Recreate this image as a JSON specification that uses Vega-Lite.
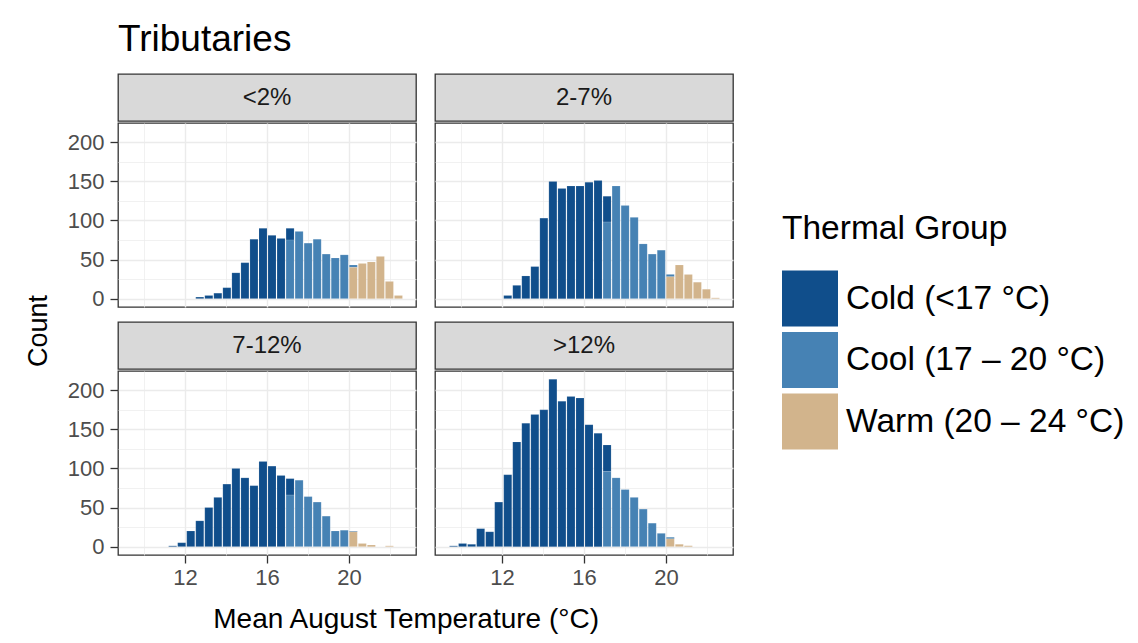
{
  "$schema": "https://vega.github.io/schema/vega-lite/v6.json",
  "background": "white",
  "padding": {"left": 24, "top": 21, "right": 5, "bottom": 5},
  "title": {"text": "Tributaries", "anchor": "start", "frame": "group", "fontSize": 37, "font": "Liberation Sans", "fontWeight": "normal", "color": "#000000", "offset": 14},
  "datasets": {
    "hist": [
      {"p":"<2%","b0":12.48,"b1":12.92,"g":"Cold","n":2},
      {"p":"<2%","b0":12.92,"b1":13.36,"g":"Cold","n":4},
      {"p":"<2%","b0":13.36,"b1":13.80,"g":"Cold","n":7},
      {"p":"<2%","b0":13.80,"b1":14.24,"g":"Cold","n":14},
      {"p":"<2%","b0":14.24,"b1":14.68,"g":"Cold","n":33},
      {"p":"<2%","b0":14.68,"b1":15.12,"g":"Cold","n":46},
      {"p":"<2%","b0":15.12,"b1":15.56,"g":"Cold","n":76},
      {"p":"<2%","b0":15.56,"b1":16.00,"g":"Cold","n":90},
      {"p":"<2%","b0":16.00,"b1":16.44,"g":"Cold","n":81},
      {"p":"<2%","b0":16.44,"b1":16.88,"g":"Cold","n":77},
      {"p":"<2%","b0":16.88,"b1":17.32,"g":"Cold","n":15},
      {"p":"<2%","b0":16.88,"b1":17.32,"g":"Cool","n":75},
      {"p":"<2%","b0":17.32,"b1":17.76,"g":"Cool","n":86},
      {"p":"<2%","b0":17.76,"b1":18.20,"g":"Cool","n":71},
      {"p":"<2%","b0":18.20,"b1":18.64,"g":"Cool","n":76},
      {"p":"<2%","b0":18.64,"b1":19.08,"g":"Cool","n":57},
      {"p":"<2%","b0":19.08,"b1":19.52,"g":"Cool","n":52},
      {"p":"<2%","b0":19.52,"b1":19.96,"g":"Cool","n":56},
      {"p":"<2%","b0":19.96,"b1":20.40,"g":"Cool","n":3},
      {"p":"<2%","b0":19.96,"b1":20.40,"g":"Warm","n":40},
      {"p":"<2%","b0":20.40,"b1":20.84,"g":"Warm","n":45},
      {"p":"<2%","b0":20.84,"b1":21.28,"g":"Warm","n":47},
      {"p":"<2%","b0":21.28,"b1":21.72,"g":"Warm","n":54},
      {"p":"<2%","b0":21.72,"b1":22.16,"g":"Warm","n":22},
      {"p":"<2%","b0":22.16,"b1":22.60,"g":"Warm","n":4},

      {"p":"2-7%","b0":12.04,"b1":12.48,"g":"Cold","n":4},
      {"p":"2-7%","b0":12.48,"b1":12.92,"g":"Cold","n":17},
      {"p":"2-7%","b0":12.92,"b1":13.36,"g":"Cold","n":29},
      {"p":"2-7%","b0":13.36,"b1":13.80,"g":"Cold","n":41},
      {"p":"2-7%","b0":13.80,"b1":14.24,"g":"Cold","n":103},
      {"p":"2-7%","b0":14.24,"b1":14.68,"g":"Cold","n":150},
      {"p":"2-7%","b0":14.68,"b1":15.12,"g":"Cold","n":141},
      {"p":"2-7%","b0":15.12,"b1":15.56,"g":"Cold","n":144},
      {"p":"2-7%","b0":15.56,"b1":16.00,"g":"Cold","n":144},
      {"p":"2-7%","b0":16.00,"b1":16.44,"g":"Cold","n":149},
      {"p":"2-7%","b0":16.44,"b1":16.88,"g":"Cold","n":151},
      {"p":"2-7%","b0":16.88,"b1":17.32,"g":"Cold","n":33},
      {"p":"2-7%","b0":16.88,"b1":17.32,"g":"Cool","n":98},
      {"p":"2-7%","b0":17.32,"b1":17.76,"g":"Cool","n":144},
      {"p":"2-7%","b0":17.76,"b1":18.20,"g":"Cool","n":119},
      {"p":"2-7%","b0":18.20,"b1":18.64,"g":"Cool","n":104},
      {"p":"2-7%","b0":18.64,"b1":19.08,"g":"Cool","n":70},
      {"p":"2-7%","b0":19.08,"b1":19.52,"g":"Cool","n":57},
      {"p":"2-7%","b0":19.52,"b1":19.96,"g":"Cool","n":62},
      {"p":"2-7%","b0":19.96,"b1":20.40,"g":"Cool","n":3},
      {"p":"2-7%","b0":19.96,"b1":20.40,"g":"Warm","n":28},
      {"p":"2-7%","b0":20.40,"b1":20.84,"g":"Warm","n":43},
      {"p":"2-7%","b0":20.84,"b1":21.28,"g":"Warm","n":31},
      {"p":"2-7%","b0":21.28,"b1":21.72,"g":"Warm","n":21},
      {"p":"2-7%","b0":21.72,"b1":22.16,"g":"Warm","n":12},
      {"p":"2-7%","b0":22.16,"b1":22.60,"g":"Warm","n":1},

      {"p":"7-12%","b0":11.16,"b1":11.60,"g":"Cold","n":1},
      {"p":"7-12%","b0":11.60,"b1":12.04,"g":"Cold","n":5},
      {"p":"7-12%","b0":12.04,"b1":12.48,"g":"Cold","n":20},
      {"p":"7-12%","b0":12.48,"b1":12.92,"g":"Cold","n":33},
      {"p":"7-12%","b0":12.92,"b1":13.36,"g":"Cold","n":50},
      {"p":"7-12%","b0":13.36,"b1":13.80,"g":"Cold","n":63},
      {"p":"7-12%","b0":13.80,"b1":14.24,"g":"Cold","n":80},
      {"p":"7-12%","b0":14.24,"b1":14.68,"g":"Cold","n":100},
      {"p":"7-12%","b0":14.68,"b1":15.12,"g":"Cold","n":88},
      {"p":"7-12%","b0":15.12,"b1":15.56,"g":"Cold","n":78},
      {"p":"7-12%","b0":15.56,"b1":16.00,"g":"Cold","n":109},
      {"p":"7-12%","b0":16.00,"b1":16.44,"g":"Cold","n":103},
      {"p":"7-12%","b0":16.44,"b1":16.88,"g":"Cold","n":91},
      {"p":"7-12%","b0":16.88,"b1":17.32,"g":"Cold","n":21},
      {"p":"7-12%","b0":16.88,"b1":17.32,"g":"Cool","n":66},
      {"p":"7-12%","b0":17.32,"b1":17.76,"g":"Cool","n":85},
      {"p":"7-12%","b0":17.76,"b1":18.20,"g":"Cool","n":64},
      {"p":"7-12%","b0":18.20,"b1":18.64,"g":"Cool","n":57},
      {"p":"7-12%","b0":18.64,"b1":19.08,"g":"Cool","n":39},
      {"p":"7-12%","b0":19.08,"b1":19.52,"g":"Cool","n":20},
      {"p":"7-12%","b0":19.52,"b1":19.96,"g":"Cool","n":21},
      {"p":"7-12%","b0":19.96,"b1":20.40,"g":"Cool","n":1},
      {"p":"7-12%","b0":19.96,"b1":20.40,"g":"Warm","n":19},
      {"p":"7-12%","b0":20.40,"b1":20.84,"g":"Warm","n":4},
      {"p":"7-12%","b0":20.84,"b1":21.28,"g":"Warm","n":2},
      {"p":"7-12%","b0":21.72,"b1":22.16,"g":"Warm","n":1},

      {"p":">12%","b0":9.40,"b1":9.84,"g":"Cold","n":1},
      {"p":">12%","b0":9.84,"b1":10.28,"g":"Cold","n":4},
      {"p":">12%","b0":10.28,"b1":10.72,"g":"Cold","n":3},
      {"p":">12%","b0":10.72,"b1":11.16,"g":"Cold","n":23},
      {"p":">12%","b0":11.16,"b1":11.60,"g":"Cold","n":19},
      {"p":">12%","b0":11.60,"b1":12.04,"g":"Cold","n":57},
      {"p":">12%","b0":12.04,"b1":12.48,"g":"Cold","n":92},
      {"p":">12%","b0":12.48,"b1":12.92,"g":"Cold","n":134},
      {"p":">12%","b0":12.92,"b1":13.36,"g":"Cold","n":158},
      {"p":">12%","b0":13.36,"b1":13.80,"g":"Cold","n":169},
      {"p":">12%","b0":13.80,"b1":14.24,"g":"Cold","n":175},
      {"p":">12%","b0":14.24,"b1":14.68,"g":"Cold","n":214},
      {"p":">12%","b0":14.68,"b1":15.12,"g":"Cold","n":186},
      {"p":">12%","b0":15.12,"b1":15.56,"g":"Cold","n":192},
      {"p":">12%","b0":15.56,"b1":16.00,"g":"Cold","n":190},
      {"p":">12%","b0":16.00,"b1":16.44,"g":"Cold","n":156},
      {"p":">12%","b0":16.44,"b1":16.88,"g":"Cold","n":145},
      {"p":">12%","b0":16.88,"b1":17.32,"g":"Cold","n":34},
      {"p":">12%","b0":16.88,"b1":17.32,"g":"Cool","n":96},
      {"p":">12%","b0":17.32,"b1":17.76,"g":"Cool","n":88},
      {"p":">12%","b0":17.76,"b1":18.20,"g":"Cool","n":73},
      {"p":">12%","b0":18.20,"b1":18.64,"g":"Cool","n":63},
      {"p":">12%","b0":18.64,"b1":19.08,"g":"Cool","n":48},
      {"p":">12%","b0":19.08,"b1":19.52,"g":"Cool","n":30},
      {"p":">12%","b0":19.52,"b1":19.96,"g":"Cool","n":17},
      {"p":">12%","b0":19.96,"b1":20.40,"g":"Cool","n":2},
      {"p":">12%","b0":19.96,"b1":20.40,"g":"Warm","n":10},
      {"p":">12%","b0":20.40,"b1":20.84,"g":"Warm","n":3},
      {"p":">12%","b0":20.84,"b1":21.28,"g":"Warm","n":1}
    ]
  },
  "vconcat": [
    {
      "title": {"text": "Mean August Temperature (°C)", "orient": "bottom", "anchor": "middle", "fontSize": 28, "font": "Liberation Sans", "fontWeight": "normal", "color": "#000000", "offset": 17, "dx": 27},
      "vconcat": [
        {
          "title": {"text": "Count", "orient": "left", "anchor": "middle", "fontSize": 27, "font": "Liberation Sans", "fontWeight": "normal", "color": "#000000", "offset": 14},
          "spacing": 10,
          "vconcat": [
            {
              "spacing": 17,
              "hconcat": [
                {
                  "spacing": 0,
                  "vconcat": [
                    {"width": 298, "height": 47, "view": {"fill": "#D9D9D9", "stroke": "#333333", "strokeWidth": 1.3},
                     "data": {"values": [{"p": "<2%"}]},
                     "mark": {"type": "text", "fontSize": 24, "color": "#1A1A1A", "baseline": "middle", "align": "center"},
                     "encoding": {"text": {"field": "p", "type": "nominal"}}},
                    {"width": 298, "height": 184, "view": {"stroke": "#333333", "strokeWidth": 1.3},
                     "data": {"name": "hist"},
                     "transform": [{"filter": "datum.p === '<2%'"}],
                     "mark": {"type": "bar", "stroke": "#ffffff", "strokeWidth": 0.4, "strokeOpacity": 0.3},
                     "encoding": {
                       "x": {"field": "b0", "type": "quantitative", "bin": "binned", "scale": {"domain": [8.74, 23.26], "nice": false, "zero": false},
                             "axis": {"values": [10,12,14,16,18,20,22], "labels": false, "ticks": false, "domain": false, "title": null, "grid": true,
                                      "gridWidth": {"condition": {"test": "datum.value % 4 === 0", "value": 1.4}, "value": 0.7}}},
                       "x2": {"field": "b1"},
                       "y": {"field": "n", "type": "quantitative", "stack": "zero", "scale": {"domain": [-10.7, 224.7], "nice": false, "zero": false},
                             "axis": {"values": [0,25,50,75,100,125,150,175,200], "labelExpr": "datum.value % 50 === 0 ? datum.label : ''", "labelOverlap": false, "labelFlush": false,
                                      "tickOpacity": {"condition": {"test": "datum.value % 50 === 0", "value": 1}, "value": 0},
                                      "gridWidth": {"condition": {"test": "datum.value % 50 === 0", "value": 1.4}, "value": 0.7},
                                      "tickSize": 8, "tickWidth": 1.3, "labelPadding": 6, "domain": false, "title": null, "grid": true}},
                       "color": {"field": "g", "type": "nominal", "scale": {"domain": ["Cold", "Cool", "Warm"], "range": ["#104E8B", "#4682B4", "#D2B48C"]},
                                 "legend": {"title": "Thermal Group", "orient": "none", "legendX": 664, "legendY": 139,
                                            "labelExpr": "datum.label === 'Cold' ? 'Cold (<17 °C)' : datum.label === 'Cool' ? 'Cool (17 – 20 °C)' : 'Warm (20 – 24 °C)'"}},
                       "order": {"field": "g", "type": "ordinal", "sort": "descending"}
                     }}
                  ]
                },
                {
                  "spacing": 0,
                  "vconcat": [
                    {"width": 298, "height": 47, "view": {"fill": "#D9D9D9", "stroke": "#333333", "strokeWidth": 1.3},
                     "data": {"values": [{"p": "2-7%"}]},
                     "mark": {"type": "text", "fontSize": 24, "color": "#1A1A1A", "baseline": "middle", "align": "center"},
                     "encoding": {"text": {"field": "p", "type": "nominal"}}},
                    {"width": 298, "height": 184, "view": {"stroke": "#333333", "strokeWidth": 1.3},
                     "data": {"name": "hist"},
                     "transform": [{"filter": "datum.p === '2-7%'"}],
                     "mark": {"type": "bar", "stroke": "#ffffff", "strokeWidth": 0.4, "strokeOpacity": 0.3},
                     "encoding": {
                       "x": {"field": "b0", "type": "quantitative", "bin": "binned", "scale": {"domain": [8.74, 23.26], "nice": false, "zero": false},
                             "axis": {"values": [10,12,14,16,18,20,22], "labels": false, "ticks": false, "domain": false, "title": null, "grid": true,
                                      "gridWidth": {"condition": {"test": "datum.value % 4 === 0", "value": 1.4}, "value": 0.7}}},
                       "x2": {"field": "b1"},
                       "y": {"field": "n", "type": "quantitative", "stack": "zero", "scale": {"domain": [-10.7, 224.7], "nice": false, "zero": false},
                             "axis": {"values": [0,25,50,75,100,125,150,175,200], "labels": false, "ticks": false, "domain": false, "title": null, "grid": true,
                                      "gridWidth": {"condition": {"test": "datum.value % 50 === 0", "value": 1.4}, "value": 0.7}}},
                       "color": {"field": "g", "type": "nominal", "scale": {"domain": ["Cold", "Cool", "Warm"], "range": ["#104E8B", "#4682B4", "#D2B48C"]}},
                       "order": {"field": "g", "type": "ordinal", "sort": "descending"}
                     }}
                  ]
                }
              ]
            },
            {
              "spacing": 17,
              "hconcat": [
                {
                  "spacing": 0,
                  "vconcat": [
                    {"width": 298, "height": 47, "view": {"fill": "#D9D9D9", "stroke": "#333333", "strokeWidth": 1.3},
                     "data": {"values": [{"p": "7-12%"}]},
                     "mark": {"type": "text", "fontSize": 24, "color": "#1A1A1A", "baseline": "middle", "align": "center"},
                     "encoding": {"text": {"field": "p", "type": "nominal"}}},
                    {"width": 298, "height": 184, "view": {"stroke": "#333333", "strokeWidth": 1.3},
                     "data": {"name": "hist"},
                     "transform": [{"filter": "datum.p === '7-12%'"}],
                     "mark": {"type": "bar", "stroke": "#ffffff", "strokeWidth": 0.4, "strokeOpacity": 0.3},
                     "encoding": {
                       "x": {"field": "b0", "type": "quantitative", "bin": "binned", "scale": {"domain": [8.74, 23.26], "nice": false, "zero": false},
                             "axis": {"values": [10,12,14,16,18,20,22], "labelExpr": "datum.value % 4 === 0 ? datum.label : ''", "labelOverlap": false, "labelFlush": false,
                                      "tickOpacity": {"condition": {"test": "datum.value % 4 === 0", "value": 1}, "value": 0},
                                      "gridWidth": {"condition": {"test": "datum.value % 4 === 0", "value": 1.4}, "value": 0.7},
                                      "tickSize": 8, "tickWidth": 1.3, "labelPadding": 4, "domain": false, "title": null, "grid": true}},
                       "x2": {"field": "b1"},
                       "y": {"field": "n", "type": "quantitative", "stack": "zero", "scale": {"domain": [-10.7, 224.7], "nice": false, "zero": false},
                             "axis": {"values": [0,25,50,75,100,125,150,175,200], "labelExpr": "datum.value % 50 === 0 ? datum.label : ''", "labelOverlap": false, "labelFlush": false,
                                      "tickOpacity": {"condition": {"test": "datum.value % 50 === 0", "value": 1}, "value": 0},
                                      "gridWidth": {"condition": {"test": "datum.value % 50 === 0", "value": 1.4}, "value": 0.7},
                                      "tickSize": 8, "tickWidth": 1.3, "labelPadding": 6, "domain": false, "title": null, "grid": true}},
                       "color": {"field": "g", "type": "nominal", "scale": {"domain": ["Cold", "Cool", "Warm"], "range": ["#104E8B", "#4682B4", "#D2B48C"]}},
                       "order": {"field": "g", "type": "ordinal", "sort": "descending"}
                     }}
                  ]
                },
                {
                  "spacing": 0,
                  "vconcat": [
                    {"width": 298, "height": 47, "view": {"fill": "#D9D9D9", "stroke": "#333333", "strokeWidth": 1.3},
                     "data": {"values": [{"p": ">12%"}]},
                     "mark": {"type": "text", "fontSize": 24, "color": "#1A1A1A", "baseline": "middle", "align": "center"},
                     "encoding": {"text": {"field": "p", "type": "nominal"}}},
                    {"width": 298, "height": 184, "view": {"stroke": "#333333", "strokeWidth": 1.3},
                     "data": {"name": "hist"},
                     "transform": [{"filter": "datum.p === '>12%'"}],
                     "mark": {"type": "bar", "stroke": "#ffffff", "strokeWidth": 0.4, "strokeOpacity": 0.3},
                     "encoding": {
                       "x": {"field": "b0", "type": "quantitative", "bin": "binned", "scale": {"domain": [8.74, 23.26], "nice": false, "zero": false},
                             "axis": {"values": [10,12,14,16,18,20,22], "labelExpr": "datum.value % 4 === 0 ? datum.label : ''", "labelOverlap": false, "labelFlush": false,
                                      "tickOpacity": {"condition": {"test": "datum.value % 4 === 0", "value": 1}, "value": 0},
                                      "gridWidth": {"condition": {"test": "datum.value % 4 === 0", "value": 1.4}, "value": 0.7},
                                      "tickSize": 8, "tickWidth": 1.3, "labelPadding": 4, "domain": false, "title": null, "grid": true}},
                       "x2": {"field": "b1"},
                       "y": {"field": "n", "type": "quantitative", "stack": "zero", "scale": {"domain": [-10.7, 224.7], "nice": false, "zero": false},
                             "axis": {"values": [0,25,50,75,100,125,150,175,200], "labels": false, "ticks": false, "domain": false, "title": null, "grid": true,
                                      "gridWidth": {"condition": {"test": "datum.value % 50 === 0", "value": 1.4}, "value": 0.7}}},
                       "color": {"field": "g", "type": "nominal", "scale": {"domain": ["Cold", "Cool", "Warm"], "range": ["#104E8B", "#4682B4", "#D2B48C"]}},
                       "order": {"field": "g", "type": "ordinal", "sort": "descending"}
                     }}
                  ]
                }
              ]
            }
          ]
        }
      ]
    }
  ],
  "config": {
    "font": "Liberation Sans",
    "axis": {"labelFont": "Liberation Sans", "labelFontSize": 22, "labelColor": "#4D4D4D", "tickColor": "#333333", "gridColor": "#EBEBEB"},
    "legend": {"titleFont": "Liberation Sans", "titleFontSize": 33.5, "titleFontWeight": "normal", "titleColor": "#000000", "titlePadding": 24, "titleLimit": 500,
               "labelFont": "Liberation Sans", "labelFontSize": 33.5, "labelColor": "#000000", "labelOffset": 8, "labelLimit": 500,
               "symbolType": "square", "symbolSize": 3136, "symbolStrokeWidth": 0, "symbolOpacity": 1, "rowPadding": 5.5, "padding": 0}
  }
}
